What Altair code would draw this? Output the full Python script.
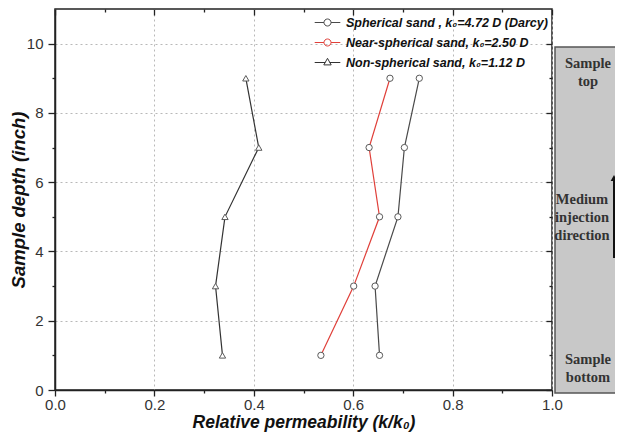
import altair as alt
import pandas as pd

# ---------------- data ----------------
depth = [1, 3, 5, 7, 9]
series_names = [
    "Spherical sand , k₀=4.72 D (Darcy)",
    "Near-spherical sand, k₀=2.50 D",
    "Non-spherical sand, k₀=1.12 D",
]
spherical = [0.653, 0.644, 0.690, 0.703, 0.733]
near_spherical = [0.535, 0.601, 0.653, 0.632, 0.674]
non_spherical = [0.337, 0.323, 0.342, 0.410, 0.384]

x_ticks = [0.0, 0.1, 0.2, 0.3, 0.4, 0.5, 0.6, 0.7, 0.8, 0.9, 1.0]
y_ticks = [0, 1, 2, 3, 4, 5, 6, 7, 8, 9, 10]

line_colors = ["#4a4a4a", "#e0403a", "#333333"]
marker_shapes = ["circle", "circle", "triangle-up"]

rows = []
for name, vals in zip(series_names, [spherical, near_spherical, non_spherical]):
    for d, v in zip(depth, vals):
        rows.append({"series": name, "perm": v, "depth": d})
df = pd.DataFrame(rows)

W, H = 497, 381
FONT = "Liberation Sans"

x_major = "round(datum.value*10) % 2 == 0"
y_major = "datum.value % 2 == 0"

x_scale = alt.Scale(domain=[0, 1], nice=False, zero=False)
y_scale = alt.Scale(domain=[0, 11], nice=False, zero=False)

main_x_axis = alt.Axis(
    values=x_ticks,
    orient="bottom",
    labelExpr=f"{x_major} ? format(datum.value, '.1f') : ''",
    tickSize={"condition": {"test": x_major, "value": 6}, "value": 3},
    grid=True,
    gridDash=[2, 3],
    gridColor="#b8b8b8",
    gridOpacity={"condition": {"test": x_major, "value": 1}, "value": 0},
    domainColor="#222",
    domainWidth=1.5,
    tickColor="#222",
    tickWidth=1.3,
    labelFont=FONT,
    labelFontSize=15,
    labelColor="#333",
    labelPadding=1,
    labelFlush=False,
    title="Relative permeability  (k/k₀)",
    titleFont=FONT,
    titleFontSize=17.5,
    titleFontWeight="bold",
    titleFontStyle="italic",
    titleColor="#111",
    titlePadding=1,
)
main_y_axis = alt.Axis(
    values=y_ticks,
    orient="left",
    labelExpr=f"{y_major} ? format(datum.value, 'd') : ''",
    tickSize={"condition": {"test": y_major, "value": 7}, "value": 3},
    grid=True,
    gridDash=[2, 3],
    gridColor="#b8b8b8",
    gridOpacity={"condition": {"test": y_major, "value": 1}, "value": 0},
    domainColor="#222",
    domainWidth=1.5,
    tickColor="#222",
    tickWidth=1.3,
    labelFont=FONT,
    labelFontSize=15,
    labelColor="#333",
    labelPadding=5,
    labelFlush=False,
    title="Sample depth (inch)",
    titleFont=FONT,
    titleFontSize=18.5,
    titleFontWeight="bold",
    titleFontStyle="italic",
    titleColor="#111",
    titlePadding=-2,
)
mirror_x_axis = alt.Axis(
    values=x_ticks, orient="bottom", offset=-H, labels=False, domain=False,
    grid=False, title="", tickColor="#222", tickWidth=1.3,
    tickSize={"condition": {"test": x_major, "value": 6}, "value": 3},
)
mirror_y_axis = alt.Axis(
    values=y_ticks, orient="left", offset=-W, labels=False, domain=False,
    grid=False, title="", tickColor="#222", tickWidth=1.3,
    tickSize={"condition": {"test": y_major, "value": 6}, "value": 3},
)

# legend symbols: a short line with the open marker on it
circle_path = "M-1.6,0H-0.44M0.44,0H1.6M0.44,0A0.44,0.44,0,1,1,-0.44,0A0.44,0.44,0,1,1,0.44,0Z"
tri_path = "M-1.6,0H-0.28M0.28,0H1.6M0,-0.52L0.46,0.3L-0.46,0.3Z"
legend_shapes = [circle_path, circle_path, tri_path]

legend = alt.Legend(
    orient="none",
    legendX=264,
    legendY=5,
    title=None,
    padding=0,
    symbolSize=256,
    symbolStrokeWidth=1,
    symbolFillColor="white",
    symbolOpacity=1,
    rowPadding=5,
    labelOffset=10,
    labelFont=FONT,
    labelFontSize=12.5,
    labelFontWeight="bold",
    labelFontStyle="italic",
    labelColor="#111",
    labelLimit=400,
)

lines = alt.Chart(df).mark_line(strokeWidth=1.2).encode(
    x=alt.X("perm:Q", scale=x_scale, axis=main_x_axis),
    y=alt.Y("depth:Q", scale=y_scale, axis=main_y_axis),
    stroke=alt.Stroke("series:N", scale=alt.Scale(domain=series_names, range=line_colors), legend=None),
    order=alt.Order("depth:Q"),
)

points = alt.Chart(df).mark_point(filled=True, fill="white", stroke="#5a5a5a", strokeWidth=1, size=40, opacity=1).encode(
    x=alt.X("perm:Q", scale=x_scale, axis=mirror_x_axis),
    y=alt.Y("depth:Q", scale=y_scale, axis=mirror_y_axis),
    shape=alt.Shape("series:N", scale=alt.Scale(domain=series_names, range=marker_shapes), legend=None),
)

legend_layer = alt.Chart(df).mark_point(filled=False, opacity=0, size=256).encode(
    x=alt.X("perm:Q", scale=x_scale, axis=None),
    y=alt.Y("depth:Q", scale=y_scale, axis=None),
    stroke=alt.Stroke("series:N", scale=alt.Scale(domain=series_names, range=line_colors), legend=legend),
    shape=alt.Shape("series:N", scale=alt.Scale(domain=series_names, range=legend_shapes), legend=legend),
)

one = pd.DataFrame({"v": [0]})
box = alt.Chart(one).mark_rect(fill="#c8c8c8", stroke="#555", strokeWidth=1.5).encode(
    x=alt.value(500), x2=alt.value(600), y=alt.value(38), y2=alt.value(384)
)

serif = dict(font="Liberation Serif", fontWeight="bold", fontSize=14.5, color="#333",
             align="center", baseline="middle", lineHeight=18)
t_top = alt.Chart(one).mark_text(**serif).encode(
    x=alt.value(533), y=alt.value(55), text=alt.value(["Sample", "top"]))
t_mid = alt.Chart(one).mark_text(**serif).encode(
    x=alt.value(527), y=alt.value(191), text=alt.value(["Medium", "injection", "direction"]))
t_bot = alt.Chart(one).mark_text(**serif).encode(
    x=alt.value(533), y=alt.value(351), text=alt.value(["Sample", "bottom"]))
arrow = alt.Chart(one).mark_rule(color="#111", strokeWidth=2).encode(
    x=alt.value(559), y=alt.value(249), y2=alt.value(171))
head = alt.Chart(one).mark_point(shape="triangle-up", filled=True, color="#111", size=45, opacity=1).encode(
    x=alt.value(559), y=alt.value(169))

chart = (
    alt.layer(lines, points, legend_layer, box, t_top, t_mid, t_bot, arrow, head)
    .resolve_axis(x="independent", y="independent")
    .resolve_scale(shape="independent", stroke="independent")
    .properties(
        width=W,
        height=H,
        autosize=alt.AutoSizeParams(type="none"),
        padding={"left": 47, "top": 1, "right": 63, "bottom": 42},
        background="white",
    )
    .configure_view(stroke="#222", strokeWidth=1.5)
)

chart.save("out.html", embed_options={"renderer": "svg", "actions": False})
